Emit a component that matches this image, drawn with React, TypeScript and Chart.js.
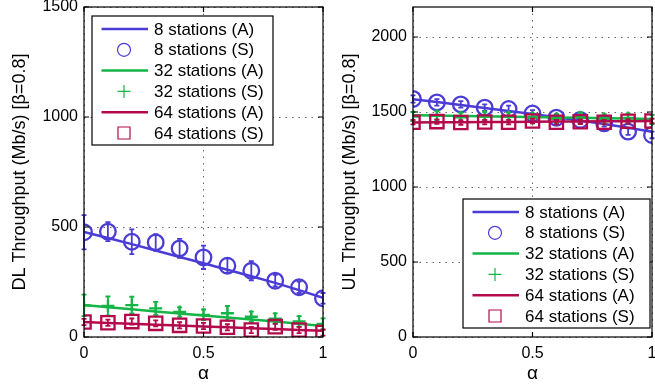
import React, { useEffect, useRef } from 'react';
import { Chart, registerables } from 'chart.js';
Chart.register(...registerables);

// ---------- data ----------
const alpha = [0, 0.1, 0.2, 0.3, 0.4, 0.5, 0.6, 0.7, 0.8, 0.9, 1];
const xTicks = [0, 0.5, 1];
const dlTicks = [0, 500, 1000, 1500];
const ulTicks = [0, 500, 1000, 1500, 2000];
const legendLabels = ['8 stations (A)', '8 stations (S)', '32 stations (A)', '32 stations (S)', '64 stations (A)', '64 stations (S)'];

// DL throughput
const dl8A = [478, 450, 422, 393, 364, 335, 306, 276, 246, 213, 178];
const dl8S = [476, 479, 433, 430, 403, 362, 324, 301, 256, 226, 176];
const dl8Err = [78, 43, 56, 38, 43, 53, 33, 44, 26, 26, 24];
const dl32A = [145, 135, 126, 116, 107, 98, 89, 80, 70, 60, 50];
const dl32S = [144, 141, 145, 130, 114, 101, 108, 92, 83, 71, 59];
const dl32Err = [49, 43, 38, 30, 21, 24, 33, 23, 24, 24, 26];
const dl64A = [68, 64, 60, 56, 52, 48, 44, 40, 36, 32, 28];
const dl64S = [68, 65, 70, 62, 53, 50, 44, 32, 47, 32, 20];
const dl64Err = [14, 14, 14, 14, 14, 14, 14, 14, 14, 14, 14];

// UL throughput
const ul8A = [1585, 1566, 1546, 1526, 1506, 1486, 1465, 1444, 1420, 1395, 1368];
const ul8S = [1587, 1564, 1551, 1529, 1520, 1490, 1462, 1447, 1424, 1369, 1347];
const ul8Err = [24, 22, 22, 22, 22, 22, 22, 22, 22, 22, 22];
const ul32A = [1478, 1476, 1474, 1471, 1469, 1466, 1463, 1461, 1458, 1456, 1454];
const ul32S = [1470, 1475, 1465, 1470, 1468, 1460, 1455, 1465, 1455, 1460, 1450];
const ul32Err = [30, 30, 30, 30, 30, 30, 30, 30, 30, 30, 30];
const ul64A = [1430, 1431, 1432, 1433, 1434, 1435, 1436, 1437, 1438, 1439, 1440];
const ul64S = [1432, 1436, 1430, 1433, 1432, 1440, 1432, 1435, 1432, 1438, 1440];
const ul64Err = [15, 15, 15, 15, 15, 15, 15, 15, 15, 15, 15];

// ---------- styles ----------
const BLUE = '#4b3cd6';
const GREEN = '#14b446';
const RED = '#b30a4c';
const FONT = '"Liberation Sans", Arial, Helvetica, sans-serif';

const pts = (ys: number[]) => alpha.map((x, i) => ({ x, y: ys[i] }));

function buildDatasets(a8: number[], s8: number[], e8: number[], a32: number[], s32: number[], e32: number[], a64: number[], s64: number[], e64: number[]) {
  const line = (ys: number[], color: string, order: number) => ({
    data: pts(ys), borderColor: color, borderWidth: 2.5, pointRadius: 0, fill: false, tension: 0, order,
  });
  const sym = (ys: number[], errs: number[], color: string, style: string, r: number, order: number) => ({
    data: pts(ys), showLine: false, pointStyle: style, pointRadius: r, pointBorderWidth: 2.3,
    pointBorderColor: color, pointBackgroundColor: 'rgba(0,0,0,0)', borderColor: color, order, errors: errs,
  });
  return [
    line(a8, BLUE, 5),
    sym(s8, e8, BLUE, 'circle', 7.8, 4),
    line(a32, GREEN, 3),
    sym(s32, e32, GREEN, 'cross', 6.5, 2),
    line(a64, RED, 1),
    sym(s64, e64, RED, 'rect', 9.4, 0),
  ];
}

const errorBarPlugin = {
  id: 'errorBars',
  afterDatasetDraw(chart: any, args: any) {
    const ds = chart.data.datasets[args.index];
    if (!ds.errors) return;
    const ctx = chart.ctx;
    const ys = chart.scales.y;
    ctx.save();
    ctx.strokeStyle = ds.borderColor;
    ctx.lineWidth = 1.8;
    args.meta.data.forEach((el: any, i: number) => {
      const v = ds.data[i].y;
      const e = ds.errors[i];
      const x = el.x;
      const t = ys.getPixelForValue(v + e);
      const b = ys.getPixelForValue(v - e);
      ctx.beginPath();
      ctx.moveTo(x, t); ctx.lineTo(x, b);
      ctx.moveTo(x - 2.5, t); ctx.lineTo(x + 2.5, t);
      ctx.moveTo(x - 2.5, b); ctx.lineTo(x + 2.5, b);
      ctx.stroke();
    });
    ctx.restore();
  },
};

const framePlugin = {
  id: 'frame',
  afterDatasetsDraw(chart: any) {
    const { ctx, chartArea: ca } = chart;
    const xs = chart.scales.x, ys = chart.scales.y;
    ctx.save();
    ctx.strokeStyle = '#000';
    ctx.lineWidth = 1.2;
    ctx.strokeRect(ca.left, ca.top, ca.right - ca.left, ca.bottom - ca.top);
    const L = 5;
    ctx.beginPath();
    xs.ticks.forEach((t: any) => {
      const px = xs.getPixelForValue(t.value);
      ctx.moveTo(px, ca.bottom); ctx.lineTo(px, ca.bottom - L);
      ctx.moveTo(px, ca.top); ctx.lineTo(px, ca.top + L);
    });
    ys.ticks.forEach((t: any) => {
      const py = ys.getPixelForValue(t.value);
      ctx.moveTo(ca.left, py); ctx.lineTo(ca.left + L, py);
      ctx.moveTo(ca.right, py); ctx.lineTo(ca.right - L, py);
    });
    ctx.stroke();
    ctx.restore();
  },
};

const legendPlugin = {
  id: 'boxLegend',
  afterDraw(chart: any, _args: any, opts: any) {
    const ctx = chart.ctx;
    const { x, y, w, h } = opts;
    const ds = chart.data.datasets;
    ctx.save();
    ctx.fillStyle = '#fff';
    ctx.fillRect(x, y, w, h);
    ctx.strokeStyle = '#000';
    ctx.lineWidth = 1.2;
    ctx.strokeRect(x, y, w, h);
    const rowH = 20.8;
    legendLabels.forEach((label, i) => {
      const cy = y + 13 + i * rowH;
      const d = ds[i];
      const color = d.pointStyle ? d.pointBorderColor : d.borderColor;
      ctx.strokeStyle = color;
      if (!d.pointStyle) {
        ctx.lineWidth = 2.5;
        ctx.beginPath();
        ctx.moveTo(x + 9.5, cy); ctx.lineTo(x + 56, cy);
        ctx.stroke();
      } else {
        const cx = x + 32;
        ctx.lineWidth = 1.2;
        ctx.beginPath();
        if (d.pointStyle === 'circle') {
          ctx.arc(cx, cy, 6.5, 0, Math.PI * 2);
        } else if (d.pointStyle === 'cross') {
          ctx.moveTo(cx - 6.5, cy); ctx.lineTo(cx + 6.5, cy);
          ctx.moveTo(cx, cy - 6.5); ctx.lineTo(cx, cy + 6.5);
        } else {
          ctx.rect(cx - 6, cy - 6, 12, 12);
        }
        ctx.stroke();
      }
      ctx.fillStyle = '#000';
      ctx.font = `17px ${FONT}`;
      ctx.textBaseline = 'middle';
      ctx.textAlign = 'left';
      ctx.fillText(label, x + 62, cy + 1);
    });
    ctx.restore();
  },
};

function makeConfig(datasets: any[], yMax: number, yTicks: number[], yTitle: string, yWidth: number, padRight: number, titlePadTop: number, legend: any) {
  return {
    type: 'line',
    data: { datasets },
    plugins: [errorBarPlugin, framePlugin, legendPlugin],
    options: {
      animation: false,
      responsive: false,
      devicePixelRatio: 1,
      layout: { autoPadding: false, padding: { left: 0, top: 7, right: padRight, bottom: 0 } },
      plugins: { legend: { display: false }, tooltip: { enabled: false }, boxLegend: legend },
      scales: {
        x: {
          type: 'linear', min: 0, max: 1,
          afterBuildTicks: (s: any) => { s.ticks = xTicks.map((v) => ({ value: v })); },
          afterFit: (s: any) => { s.height = 52; s.paddingLeft = 0; s.paddingRight = 0; s.paddingTop = 0; s.paddingBottom = 0; },
          ticks: { color: '#000', font: { family: FONT, size: 16 }, padding: 7, maxRotation: 0, callback: (v: any) => String(v) },
          grid: { color: 'rgba(0,0,0,0.6)', borderDash: [1.5, 5], drawTicks: false, lineWidth: 1 },
          border: { display: false, dash: [1.5, 5] },
          title: { display: true, text: 'α', color: '#000', font: { family: FONT, size: 19 }, padding: { top: 0, bottom: 4 } },
        },
        y: {
          type: 'linear', min: 0, max: yMax,
          afterBuildTicks: (s: any) => { s.ticks = yTicks.map((v) => ({ value: v })); },
          afterFit: (s: any) => { s.width = yWidth; s.paddingLeft = 0; s.paddingRight = 0; s.paddingTop = 0; s.paddingBottom = 0; },
          ticks: { color: '#000', font: { family: FONT, size: 16 }, padding: 6, callback: (v: any) => String(v) },
          grid: { color: 'rgba(0,0,0,0.6)', borderDash: [1.5, 5], drawTicks: false, lineWidth: 1 },
          border: { display: false, dash: [1.5, 5] },
          title: { display: true, text: yTitle, color: '#000', font: { family: FONT, size: 18 }, padding: { top: titlePadTop, bottom: 0 } },
        },
      },
    },
  };
}

function Panel(props: { left: number; width: number; config: any }) {
  const ref = useRef<HTMLCanvasElement>(null);
  useEffect(() => {
    const chart = new Chart(ref.current as HTMLCanvasElement, props.config);
    return () => chart.destroy();
  }, []);
  return (
    <div style={{ position: 'absolute', left: props.left, top: 0, width: props.width, height: 389 }}>
      <canvas ref={ref} width={props.width} height={389} style={{ width: props.width, height: 389, display: 'block' }} />
    </div>
  );
}

export default function App() {
  const dlConfig = makeConfig(
    buildDatasets(dl8A, dl8S, dl8Err, dl32A, dl32S, dl32Err, dl64A, dl64S, dl64Err),
    1500, dlTicks, 'DL Throughput (Mb/s) [β=0.8]', 84, 12, 9,
    { x: 92, y: 16, w: 181, h: 129 }
  );
  const ulConfig = makeConfig(
    buildDatasets(ul8A, ul8S, ul8Err, ul32A, ul32S, ul32Err, ul64A, ul64S, ul64Err),
    2200, ulTicks, 'UL Throughput (Mb/s) [β=0.8]', 78, 3, 4,
    { x: 128, y: 199, w: 187, h: 129 }
  );
  return (
    <div style={{ position: 'fixed', left: 0, top: 0, width: 655, height: 389, background: '#fff' }}>
      <Panel left={0} width={335} config={dlConfig} />
      <Panel left={335} width={320} config={ulConfig} />
    </div>
  );
}
